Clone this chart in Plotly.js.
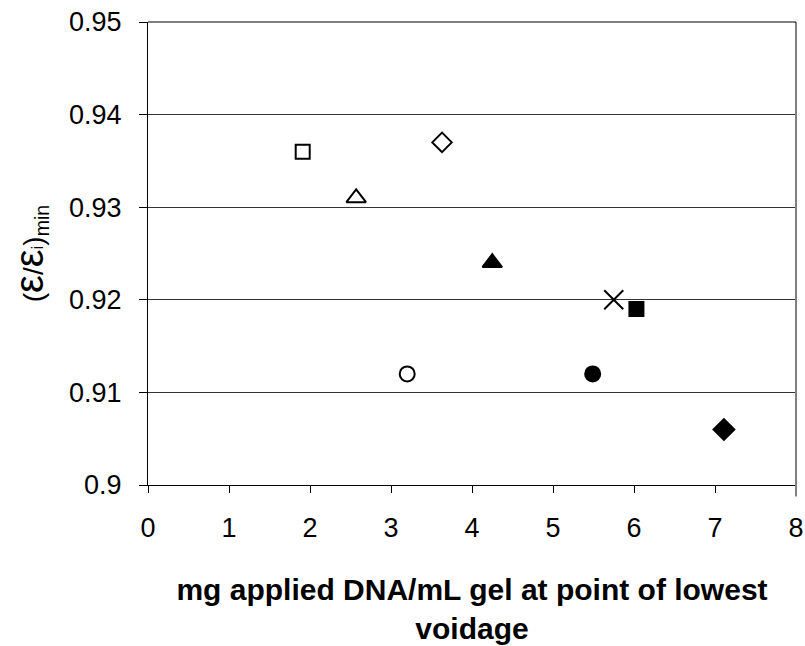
<!DOCTYPE html>
<html>
<head>
<meta charset="utf-8">
<script src="https://cdn.plot.ly/plotly-3.0.1.min.js"></script>
<style>
  html, body { margin: 0; padding: 0; background: #ffffff; }
  #chart { width: 805px; height: 646px; }
</style>
</head>
<body>
<div id="chart"></div>
<script>
// Data
const xValues = [1.91, 2.57, 3.20, 3.63, 4.25, 5.49, 5.75, 6.03, 7.11];
const yValues = [0.936, 0.931, 0.912, 0.937, 0.924, 0.912, 0.920, 0.919, 0.906];
const xTickValues = [0, 1, 2, 3, 4, 5, 6, 7, 8];
const yTickValues = [0.9, 0.91, 0.92, 0.93, 0.94, 0.95];

// Marker styles (one per point, same order as the data)
const markerSymbols = ['square', 'triangle-up', 'circle', 'diamond', 'triangle-up', 'circle', 'x-thin', 'square', 'diamond'];
const markerFills   = ['#ffffff', '#ffffff', '#ffffff', '#ffffff', '#000000', '#000000', '#000000', '#000000', '#000000'];
const markerSizes   = [14, 17, 15, 15, 17, 15, 19, 14, 16];

const trace = {
  type: 'scatter',
  mode: 'markers',
  x: xValues,
  y: yValues,
  showlegend: false,
  hoverinfo: 'x+y',
  marker: {
    symbol: markerSymbols,
    color: markerFills,
    size: markerSizes,
    opacity: 1,
    line: { color: '#000000', width: 2 }
  },
  cliponaxis: false
};

const fontFamily = 'Liberation Sans, Arial, sans-serif';

const layout = {
  width: 805,
  height: 646,
  paper_bgcolor: '#ffffff',
  plot_bgcolor: '#ffffff',
  margin: { l: 148, r: 9, t: 22, b: 161 },
  font: { family: fontFamily, color: '#000000', size: 28 },
  xaxis: {
    range: [0, 8],
    tickmode: 'array',
    tickvals: xTickValues,
    ticks: 'outside',
    ticklen: 7,
    tickwidth: 1,
    tickcolor: '#000000',
    ticklabelstandoff: 12,
    showline: true,
    linecolor: '#000000',
    linewidth: 1,
    showgrid: false,
    zeroline: false,
    tickfont: { family: fontFamily, size: 27, color: '#000000' },
    title: {
      text: '<b>mg applied DNA/mL gel at point of lowest<br>voidage</b>',
      font: { family: fontFamily, size: 30, color: '#000000' },
      standoff: 36
    },
    automargin: false,
    fixedrange: true
  },
  yaxis: {
    range: [0.9, 0.95],
    tickmode: 'array',
    tickvals: yTickValues,
    ticks: 'outside',
    ticklen: 8,
    tickwidth: 1,
    tickcolor: '#000000',
    ticklabelstandoff: 12,
    showline: true,
    linecolor: '#000000',
    linewidth: 1,
    showgrid: true,
    gridcolor: '#333333',
    gridwidth: 1,
    zeroline: false,
    tickfont: { family: fontFamily, size: 27, color: '#000000' },
    title: {
      text: '(<span style="font-size:40px">ε</span>/<span style="font-size:40px">ε</span><span style="font-size:17px">i</span>)<sub>min</sub>',
      font: { family: fontFamily, size: 28, color: '#000000' },
      standoff: 17
    },
    automargin: false,
    fixedrange: true
  },
  shapes: [
    {
      type: 'line', xref: 'paper', yref: 'paper',
      x0: 1, x1: 1, y0: -0.025, y1: 1,
      line: { color: '#808080', width: 2 }
    },
    {
      type: 'line', xref: 'paper', yref: 'paper',
      x0: 0, x1: 1, y0: 1, y1: 1,
      line: { color: '#000000', width: 1 }
    }
  ]
};

Plotly.newPlot('chart', [trace], layout, { displayModeBar: false, staticPlot: true });
</script>
</body>
</html>
